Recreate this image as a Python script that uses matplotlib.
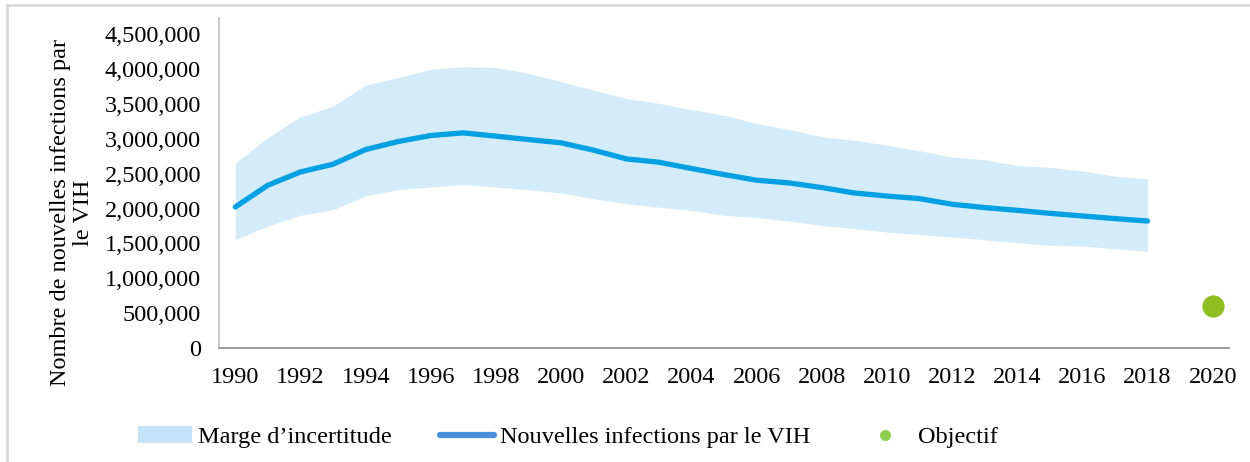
import matplotlib
matplotlib.use("Agg")
import matplotlib.pyplot as plt
from matplotlib.patches import Patch
from matplotlib.lines import Line2D
from matplotlib.ticker import FuncFormatter

plt.rcParams['font.family'] = ['Liberation Serif', 'DejaVu Serif']

years = list(range(1990, 2019))
new_infections = [2.023, 2.335, 2.526, 2.636, 2.847, 2.962, 3.048, 3.086, 3.039, 2.990,
                  2.943, 2.838, 2.713, 2.665, 2.575, 2.488, 2.407, 2.368, 2.302, 2.224,
                  2.180, 2.143, 2.062, 2.014, 1.975, 1.932, 1.894, 1.856, 1.822]
upper = [2.655, 3.020, 3.316, 3.470, 3.770, 3.880, 4.000, 4.035, 4.026, 3.940,
         3.820, 3.700, 3.580, 3.510, 3.420, 3.340, 3.220, 3.135, 3.030, 2.980,
         2.910, 2.830, 2.740, 2.700, 2.620, 2.590, 2.540, 2.464, 2.430]
lower = [1.554, 1.750, 1.904, 1.985, 2.181, 2.273, 2.310, 2.345, 2.310, 2.270,
         2.224, 2.140, 2.070, 2.020, 1.975, 1.904, 1.870, 1.820, 1.760, 1.712,
         1.664, 1.626, 1.592, 1.554, 1.510, 1.473, 1.463, 1.425, 1.387]
target_year = [2020]
target_value = [0.60]
xtick_years = list(range(1990, 2021, 2))
yticks = [0, 0.5, 1.0, 1.5, 2.0, 2.5, 3.0, 3.5, 4.0, 4.5]

scale = 1e6
fig = plt.figure(figsize=(12.5, 4.62), dpi=100)
ax = fig.add_axes([219/1250, 1 - 348/462, (1229-219)/1250, (348-18)/462])

ax.fill_between(years, [v*scale for v in lower], [v*scale for v in upper],
                color='#d4ebfa', linewidth=0, zorder=1)
ax.plot(years, [v*scale for v in new_infections], color='#00a0e3', linewidth=3.8,
        solid_capstyle='round', solid_joinstyle='round', zorder=2)
ax.plot(target_year, [v*scale for v in target_value], 'o', color='#8fbe23',
        markersize=16, markeredgewidth=0, zorder=3)

ax.set_xlim(1989.5, 2020.5)
ax.set_ylim(0, 4.734e6)
ax.set_xticks(xtick_years)
ax.set_yticks([v*scale for v in yticks])
ax.yaxis.set_major_formatter(FuncFormatter(lambda v, p: f"{int(round(v)):,}"))
ax.tick_params(axis='both', length=0, labelsize=17.5, colors='black')
ax.tick_params(axis='x', pad=14)
ax.tick_params(axis='y', pad=13)

for s in ['top', 'right']:
    ax.spines[s].set_visible(False)
ax.spines['left'].set_color('#bfbfbf')
ax.spines['left'].set_linewidth(1.2)
ax.spines['bottom'].set_color('#8c8c8c')
ax.spines['bottom'].set_linewidth(1.2)

fig.text(72/1250, 1 - 213/462, "Nombre de nouvelles infections par\nle VIH",
         rotation=90, ha='center', va='center', multialignment='center',
         fontsize=17.5, linespacing=1.1)

handles = [Patch(facecolor='#c4e3f8', edgecolor='none'),
           Line2D([0], [0], color='#4a8fdb', linewidth=4.5, solid_capstyle='round'),
           Line2D([0], [0], marker='o', color='none', markerfacecolor='#8fcf4f',
                  markeredgewidth=0, markersize=8)]
labels = ["Marge d\u2019incertitude", "Nouvelles infections par le VIH", "Objectif"]
fig.legend(handles, labels, loc='center', bbox_to_anchor=(568/1250, 1 - 437/462),
           ncol=3, frameon=False, fontsize=17.5, handlelength=2.2, handletextpad=0.25,
           columnspacing=2.0, borderpad=0)

# light frame (top and left edges visible)
fig.add_artist(Line2D([7/1250, 1], [1 - 5/462, 1 - 5/462], color='#d9d9d9', linewidth=2,
                      transform=fig.transFigure))
fig.add_artist(Line2D([7/1250, 7/1250], [0, 1 - 5/462], color='#d9d9d9', linewidth=2,
                      transform=fig.transFigure))

fig.savefig("out.png", dpi=100)
